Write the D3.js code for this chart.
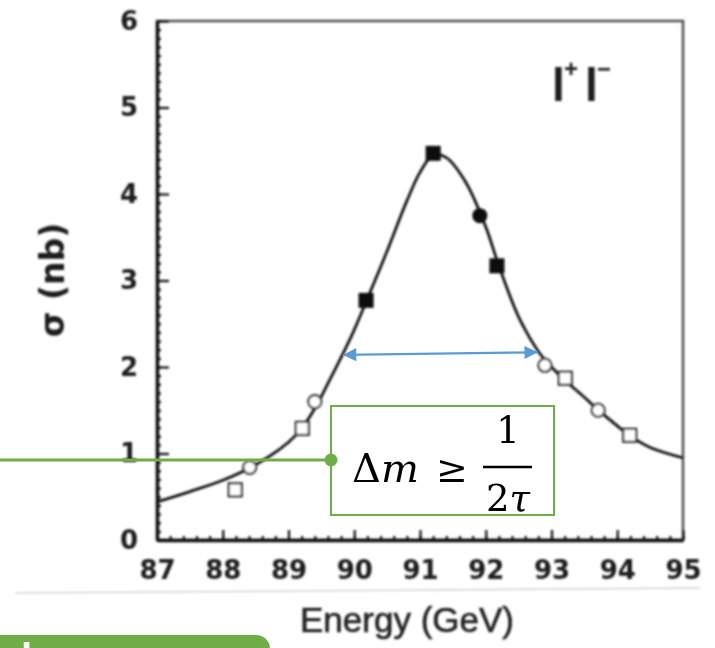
<!DOCTYPE html>
<html>
<head>
<meta charset="utf-8">
<script src="https://cdn.jsdelivr.net/npm/d3@7"></script>
<style>
  html, body { margin: 0; padding: 0; background: #fff; }
  svg { display: block; }
</style>
</head>
<body>
<svg id="chart" width="715" height="648"></svg>
<script>
// Z lineshape in the l+l- channel: cross-section vs centre-of-mass energy
const energyTicks = [87, 88, 89, 90, 91, 92, 93, 94, 95];
const sigmaTicks = [0, 1, 2, 3, 4, 5, 6];

// fitted lineshape
const fitEnergy = [87.0, 87.5, 88.0, 88.5, 89.0, 89.2, 89.4, 89.6, 89.8, 90.0, 90.2, 90.5, 90.8, 91.0, 91.2, 91.4, 91.7, 92.0, 92.2, 92.5, 92.8, 93.0, 93.2, 93.5, 93.7, 94.0, 94.2, 94.5, 95.0];
const fitSigma  = [0.44, 0.56, 0.69, 0.87, 1.13, 1.29, 1.52, 1.81, 2.11, 2.43, 2.79, 3.34, 3.92, 4.25, 4.45, 4.42, 4.13, 3.62, 3.17, 2.58, 2.18, 2.00, 1.85, 1.65, 1.51, 1.32, 1.20, 1.07, 0.95];

// measurements, one pair of arrays per marker style
const openSquareEnergy = [88.19, 89.21, 93.21, 94.19];
const openSquareSigma  = [0.58, 1.29, 1.87, 1.21];
const openCircleEnergy = [88.41, 89.40, 92.90, 93.71];
const openCircleSigma  = [0.84, 1.60, 2.02, 1.50];
const filledSquareEnergy = [90.18, 91.20, 92.17];
const filledSquareSigma  = [2.77, 4.47, 3.17];
const filledCircleEnergy = [91.91];
const filledCircleSigma  = [3.75];

// half-maximum width marker
const widthEnergy = [89.83, 92.79];
const widthSigma = [2.14, 2.17];

const svg = d3.select("#chart");
const x = d3.scaleLinear().domain([87, 95]).range([157, 683]);
const y = d3.scaleLinear().domain([0, 6]).range([540, 21]);

const defs = svg.append("defs");
defs.append("filter").attr("id", "soft")
  .attr("x", "-5%").attr("y", "-5%").attr("width", "110%").attr("height", "110%")
  .append("feGaussianBlur").attr("stdDeviation", 0.8);

const plot = svg.append("g").attr("filter", "url(#soft)");

// faint edge of the scanned page
plot.append("line")
  .attr("x1", 15).attr("y1", 593).attr("x2", 700).attr("y2", 588)
  .attr("stroke", "#d4d4d4").attr("stroke-width", 1.5);

// frame
plot.append("rect")
  .attr("x", x(87)).attr("y", y(6))
  .attr("width", x(95) - x(87)).attr("height", y(0) - y(6))
  .attr("fill", "none").attr("stroke", "#555").attr("stroke-width", 2.6);

// minor ticks
const minorX = d3.range(87, 95.001, 0.2);
const minorY = d3.range(0, 6.001, 0.1);
plot.append("g").attr("transform", `translate(0,${y(0)})`)
  .call(d3.axisBottom(x).tickValues(minorX).tickSize(-4).tickSizeOuter(0).tickFormat(""))
  .call(g => g.select(".domain").remove())
  .call(g => g.selectAll("line").attr("stroke", "#1a1a1a").attr("stroke-width", 2.2));
plot.append("g").attr("transform", `translate(${x(87)},0)`)
  .call(d3.axisLeft(y).tickValues(minorY).tickSize(-4).tickSizeOuter(0).tickFormat(""))
  .call(g => g.select(".domain").remove())
  .call(g => g.selectAll("line").attr("stroke", "#1a1a1a").attr("stroke-width", 2.2));

// major axes with labels
const xAxis = plot.append("g").attr("transform", `translate(0,${y(0)})`)
  .call(d3.axisBottom(x).tickValues(energyTicks).tickSize(-10).tickSizeOuter(0).tickPadding(21).tickFormat(d3.format("d")));
const yAxis = plot.append("g").attr("transform", `translate(${x(87)},0)`)
  .call(d3.axisLeft(y).tickValues(sigmaTicks).tickSize(-12).tickSizeOuter(0).tickPadding(19).tickFormat(d3.format("d")));
[xAxis, yAxis].forEach(ax => {
  ax.select(".domain").attr("stroke", "#111").attr("stroke-width", 3.4);
  ax.selectAll(".tick line").attr("stroke", "#111").attr("stroke-width", 2.2);
  ax.selectAll(".tick text")
    .attr("fill", "#1a1a1a")
    .style("font-family", "'DejaVu Sans', sans-serif")
    .style("font-weight", "bold")
    .style("font-size", "26px");
});

// axis titles
plot.append("text")
  .attr("x", 407).attr("y", 632)
  .attr("text-anchor", "middle")
  .attr("fill", "#222")
  .attr("stroke", "#222").attr("stroke-width", 0.6)
  .style("font-family", "'Liberation Sans', Arial, sans-serif")
  .style("font-size", "35px")
  .text("Energy (GeV)");
plot.append("text")
  .attr("transform", "translate(64,280) rotate(-90)")
  .attr("text-anchor", "middle")
  .attr("fill", "#1a1a1a")
  .style("font-family", "'DejaVu Sans', sans-serif")
  .style("font-weight", "bold")
  .style("font-size", "33px")
  .text("σ (nb)");

// channel label
const chan = plot.append("text")
  .attr("y", 101)
  .attr("fill", "#1a1a1a")
  .style("font-family", "'Liberation Sans', Arial, sans-serif")
  .style("font-weight", "bold")
  .style("font-size", "46px");
chan.append("tspan").attr("x", 552).text("l");
chan.append("tspan").attr("x", 564).attr("dy", -24).style("font-size", "24px").text("+");
chan.append("tspan").attr("x", 585).attr("dy", 24).text("l");
chan.append("tspan").attr("x", 597).attr("dy", -24).style("font-size", "24px").text("−");

// fitted curve
const fit = fitEnergy.map((e, i) => [e, fitSigma[i]]);
plot.append("path")
  .datum(fit)
  .attr("d", d3.line().x(d => x(d[0])).y(d => y(d[1])).curve(d3.curveCatmullRom.alpha(0.5)))
  .attr("fill", "none")
  .attr("stroke", "#141414")
  .attr("stroke-width", 2.8);

// markers
const pairs = (es, ss) => es.map((e, i) => [e, ss[i]]);
plot.selectAll(".osq").data(pairs(openSquareEnergy, openSquareSigma)).join("rect")
  .attr("x", d => x(d[0]) - 6.5).attr("y", d => y(d[1]) - 6.5)
  .attr("width", 13).attr("height", 13)
  .attr("fill", "#fff").attr("stroke", "#2a2a2a").attr("stroke-width", 2.2);
plot.selectAll(".ocirc").data(pairs(openCircleEnergy, openCircleSigma)).join("circle")
  .attr("cx", d => x(d[0])).attr("cy", d => y(d[1])).attr("r", 6.5)
  .attr("fill", "#fff").attr("stroke", "#2a2a2a").attr("stroke-width", 2.2);
plot.selectAll(".fsq").data(pairs(filledSquareEnergy, filledSquareSigma)).join("rect")
  .attr("x", d => x(d[0]) - 7.5).attr("y", d => y(d[1]) - 7.5)
  .attr("width", 15).attr("height", 15)
  .attr("fill", "#0a0a0a");
plot.selectAll(".fcirc").data(pairs(filledCircleEnergy, filledCircleSigma)).join("circle")
  .attr("cx", d => x(d[0])).attr("cy", d => y(d[1])).attr("r", 7.5)
  .attr("fill", "#0a0a0a");

// ---- annotation layer ----
const green = "#70AD47";
const blue = "#5B9BD5";

defs.append("marker").attr("id", "head")
  .attr("viewBox", "0 0 10 10").attr("refX", 10).attr("refY", 5)
  .attr("markerWidth", 7).attr("markerHeight", 6).attr("markerUnits", "strokeWidth")
  .attr("orient", "auto-start-reverse")
  .append("path").attr("d", "M0,0 L10,5 L0,10 Z").attr("fill", blue);

svg.append("line")
  .attr("x1", x(widthEnergy[0])).attr("y1", y(widthSigma[0]))
  .attr("x2", x(widthEnergy[1])).attr("y2", y(widthSigma[1]))
  .attr("stroke", blue).attr("stroke-width", 2.2)
  .attr("marker-start", "url(#head)").attr("marker-end", "url(#head)");

// callout line and box
svg.append("line")
  .attr("x1", 0).attr("y1", 460).attr("x2", 331).attr("y2", 460)
  .attr("stroke", green).attr("stroke-width", 3);
svg.append("rect")
  .attr("x", 331).attr("y", 406).attr("width", 223).attr("height", 109)
  .attr("fill", "#fff").attr("stroke", green).attr("stroke-width", 2);
svg.append("circle").attr("cx", 331).attr("cy", 460).attr("r", 6.5).attr("fill", green);

const mathFont = "'DejaVu Serif', 'Liberation Serif', serif";
const lhs = svg.append("text")
  .attr("x", 352).attr("y", 482)
  .style("font-family", mathFont).style("font-size", "40px").attr("fill", "#000");
lhs.append("tspan").text("Δ");
lhs.append("tspan").style("font-style", "italic").text("m");
svg.append("text")
  .attr("x", 436).attr("y", 482)
  .style("font-family", mathFont).style("font-size", "38px").attr("fill", "#000")
  .text("≥");
svg.append("line")
  .attr("x1", 483).attr("y1", 467).attr("x2", 532).attr("y2", 467)
  .attr("stroke", "#000").attr("stroke-width", 2.5);
svg.append("text")
  .attr("x", 508).attr("y", 443).attr("text-anchor", "middle")
  .style("font-family", mathFont).style("font-size", "37px").attr("fill", "#000")
  .text("1");
const den = svg.append("text")
  .attr("x", 508).attr("y", 511).attr("text-anchor", "middle")
  .style("font-family", mathFont).style("font-size", "37px").attr("fill", "#000");
den.append("tspan").text("2");
den.append("tspan").style("font-style", "italic").text("τ");

// banner at the bottom edge
svg.append("rect")
  .attr("x", -20).attr("y", 635).attr("width", 290).attr("height", 40)
  .attr("rx", 14).attr("fill", green);
svg.append("text")
  .attr("x", 21).attr("y", 672)
  .attr("fill", "#fff")
  .style("font-family", "'Liberation Sans', Arial, sans-serif")
  .style("font-weight", "bold")
  .style("font-size", "40px")
  .text("l");
</script>
</body>
</html>
